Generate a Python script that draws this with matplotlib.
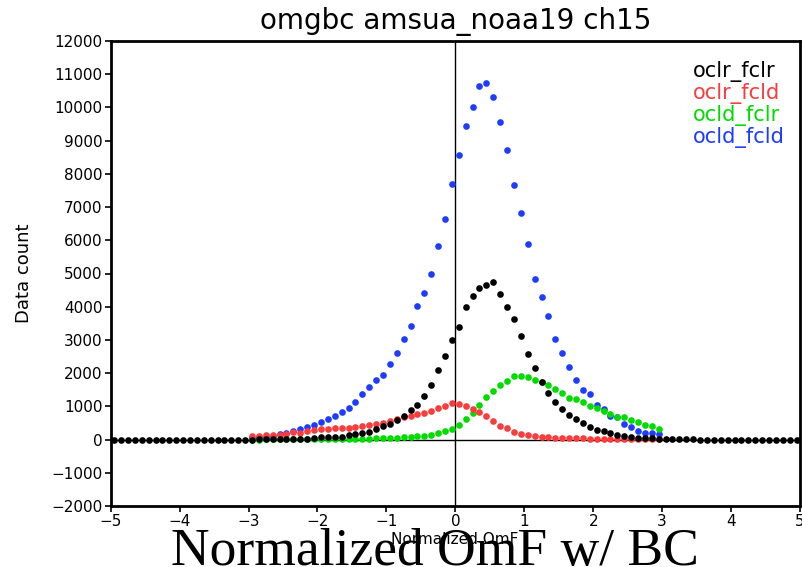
import numpy as np
import matplotlib
matplotlib.use("Agg")
import matplotlib.pyplot as plt


# ── Data ──────────────────────────────────────────────────────────────────────

# bin centres of the normalized OmF histogram
BINS_FULL = np.round(np.arange(-4.95, 5.0, 0.1), 2)    # oclr_fclr covers -5..5
BINS_CORE = np.round(np.arange(-2.95, 3.0, 0.1), 2)    # the other three cover -3..3

oclr_fclr = [
    0, 0, 0, 0, 0, 0, 0, 0, 0, 0,
    0, 0, 0, 0, 0, 0, 0, 0, 0, 0,
    2, 3, 4, 5, 7, 10, 15, 22, 32, 45,
    65, 65, 85, 90, 125, 165, 205, 235, 307, 406,
    457, 587, 717, 888, 1039, 1319, 1632, 2083, 2514, 2996,
    3387, 3980, 4312, 4571, 4660, 4733, 4381, 3990, 3628, 3117,
    2565, 2162, 1731, 1391, 1138, 909, 728, 607, 487, 386,
    286, 246, 186, 145, 95, 75, 55, 45, 35, 25,
    18, 12, 8, 5, 3, 2, 1, 0, 0, 0,
    0, 0, 0, 0, 0, 0, 0, 0, 0, 0,
]

oclr_fcld = [
    95, 105, 125, 125, 145, 165, 215, 205, 246, 286,
    307, 316, 336, 346, 346, 386, 406, 436, 476, 506,
    557, 607, 687, 717, 758, 808, 858, 940, 1020, 1100,
    1080, 1010, 910, 837, 717, 566, 416, 337, 235, 157,
    130, 105, 85, 70, 60, 52, 45, 40, 35, 30,
    27, 24, 21, 18, 15, 13, 11, 9, 7, 6,
]

ocld_fclr = [
    2, 2, 3, 3, 4, 5, 6, 7, 8, 10,
    11, 13, 15, 17, 20, 23, 26, 30, 34, 38,
    45, 55, 65, 80, 100, 115, 135, 186, 250, 330,
    446, 607, 788, 1029, 1270, 1470, 1651, 1771, 1912, 1912,
    1872, 1792, 1741, 1631, 1530, 1410, 1250, 1210, 1120, 1009,
    939, 858, 758, 687, 667, 587, 517, 436, 406, 326,
]

ocld_fcld = [
    45, 65, 90, 120, 160, 210, 265, 307, 376, 446,
    536, 617, 717, 819, 958, 1120, 1361, 1572, 1792, 1942,
    2273, 2595, 3040, 3418, 4020, 4402, 4993, 5817, 6640, 7690,
    8560, 9440, 10020, 10644, 10725, 10304, 9570, 8717, 7672, 6810,
    5897, 4843, 4291, 3719, 3040, 2595, 2192, 1792, 1505, 1370,
    1050, 909, 708, 667, 457, 367, 265, 205, 196, 155,
]

SERIES_NAMES = ["oclr_fclr", "oclr_fcld", "ocld_fclr", "ocld_fcld"]
SERIES_COLORS = ["#000000", "#FA3C3C", "#00DC00", "#1E3CFF"]

X_TICKS = list(range(-5, 6))
Y_TICKS = list(range(-2000, 12001, 1000))

TITLE = "omgbc amsua_noaa19 ch15"

# ──────────────────────────────────────────────────────────────────────────────

W, H = 803, 567
fig = plt.figure(figsize=(W / 100, H / 100), dpi=100)
ax = fig.add_axes([110.7 / W, 1 - 506 / H, (800 - 110.7) / W, (506 - 41) / H])

# draw order: blue, green, red, black on top
draw = [
    (BINS_CORE, ocld_fcld, SERIES_COLORS[3]),
    (BINS_CORE, ocld_fclr, SERIES_COLORS[2]),
    (BINS_CORE, oclr_fcld, SERIES_COLORS[1]),
    (BINS_FULL, oclr_fclr, SERIES_COLORS[0]),
]
for xs, ys, c in draw:
    ax.plot(xs, ys, linestyle="none", marker="o", markersize=4.8,
            markeredgewidth=0, color=c, clip_on=False, zorder=3)

ax.axhline(0, color="black", linewidth=1, zorder=2)
ax.axvline(0, color="black", linewidth=1, zorder=2)

ax.set_xlim(-5, 5)
ax.set_ylim(-2000, 12000)
ax.set_xticks(X_TICKS)
ax.set_yticks(Y_TICKS)
ax.tick_params(direction="out", length=4, width=1.2, labelsize=11, pad=2)
for sp in ax.spines.values():
    sp.set_linewidth(2)

ax.set_title(TITLE, fontsize=20, pad=9)
ax.set_ylabel("Data count", fontsize=13)
ax.yaxis.set_label_coords(-0.113, 0.5)

# legend as coloured text lines in the top right
for i, (name, c) in enumerate(zip(SERIES_NAMES, SERIES_COLORS)):
    fig.text(693 / W, 1 - (72 + 21.7 * i) / H, name, color=c,
             fontsize=15, ha="left", va="center")

# small axis label, then the big overlaid caption
fig.text(455 / W, 1 - 540 / H, "Normalized OmF", fontsize=11,
         ha="center", va="center")
fig.text(434.5 / W, 1 - 565 / H, "Normalized OmF w/ BC", fontsize=38.5,
         family="Liberation Serif", ha="center", va="baseline")

fig.savefig("out.png", dpi=100)
